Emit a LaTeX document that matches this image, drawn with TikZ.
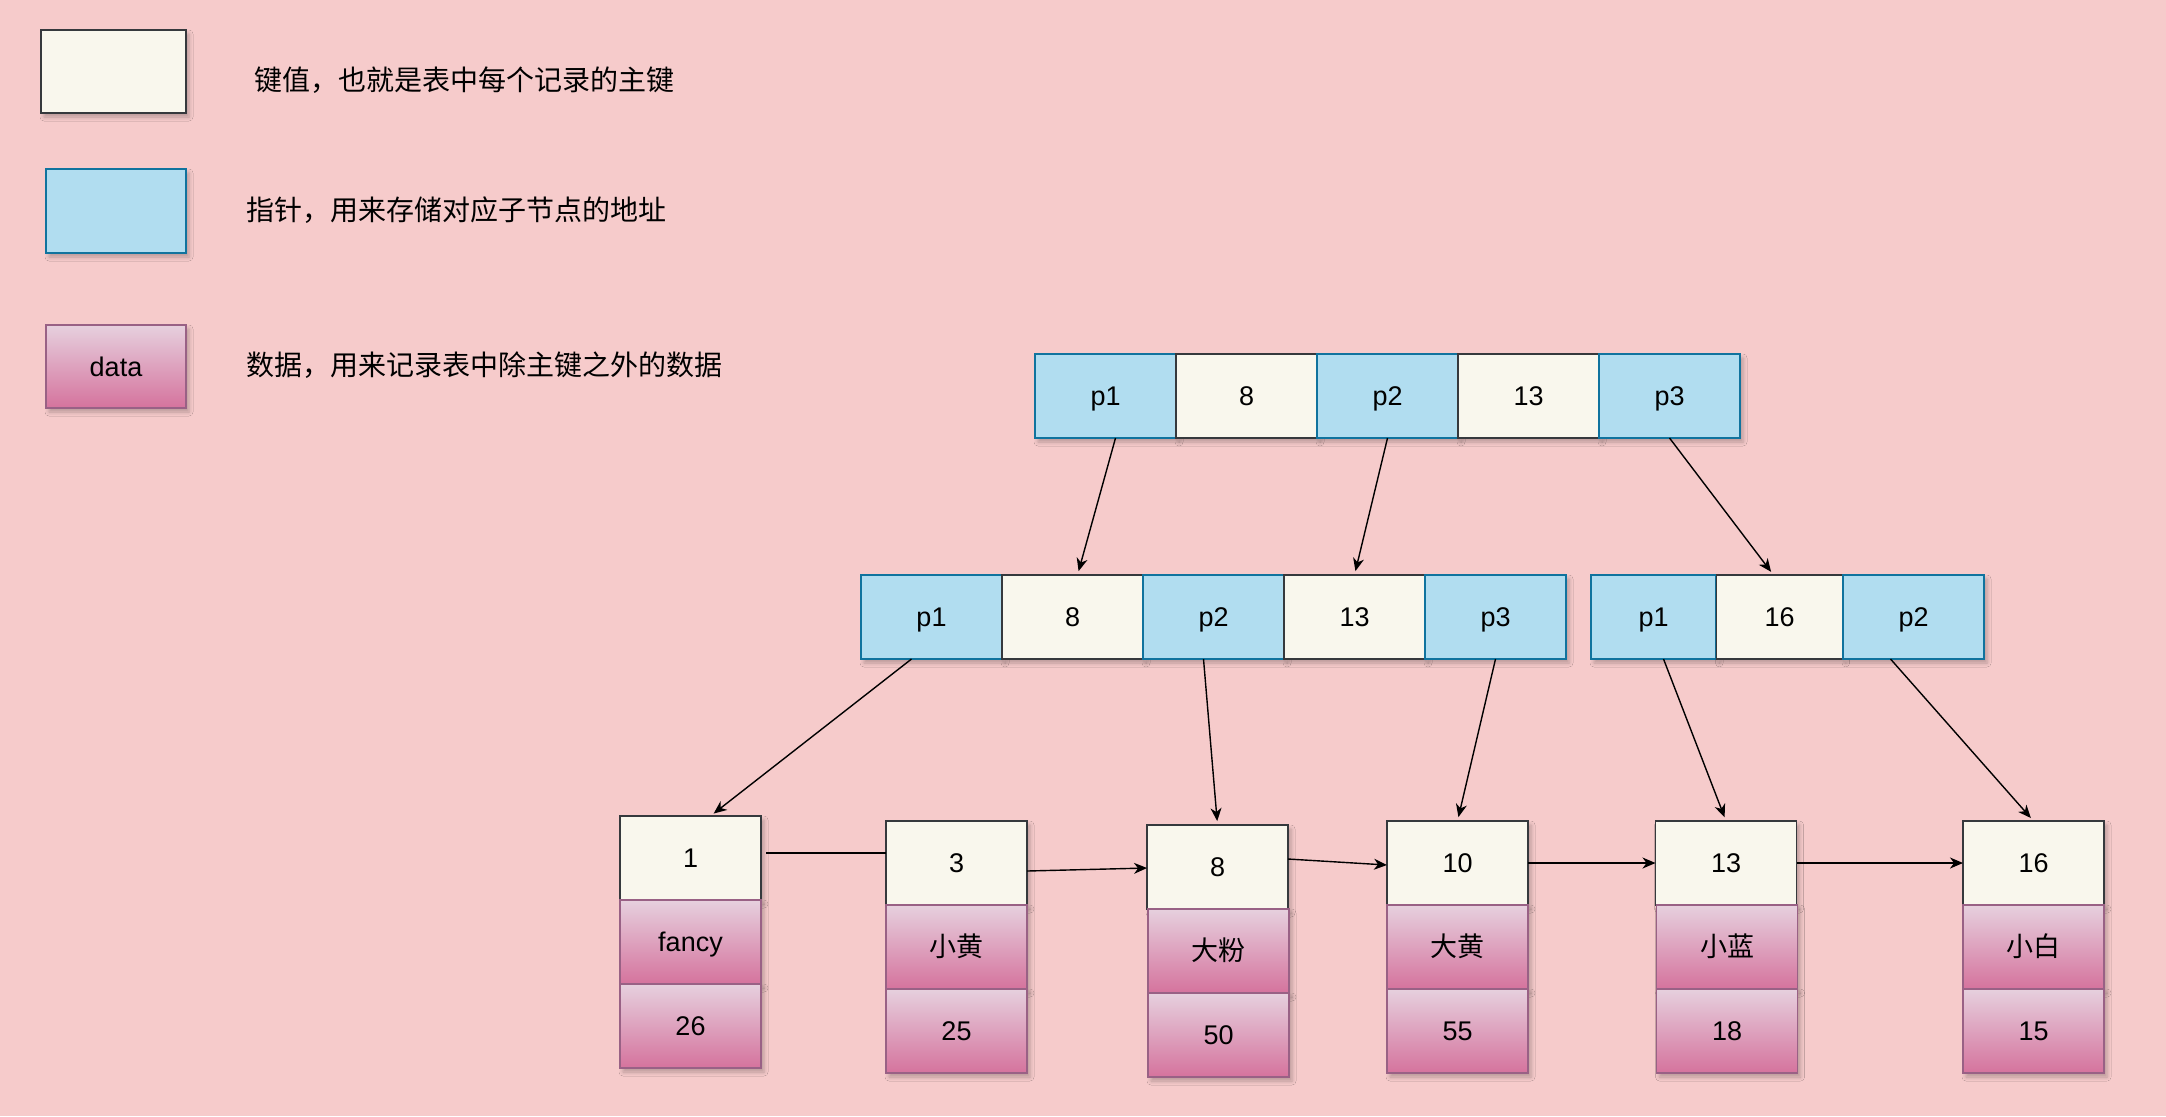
\documentclass[tikz,border=0pt]{standalone}
\usepackage{fontspec}
\setmainfont{Liberation Sans}
\newfontfamily\cjk{Noto Sans CJK SC}
\usetikzlibrary{calc,arrows.meta,shadows.blur}
\definecolor{bg}{HTML}{F6CBCB}
\definecolor{keyfill}{HTML}{F9F7ED}
\definecolor{keydraw}{HTML}{36393D}
\definecolor{ptrfill}{HTML}{B1DDF0}
\definecolor{ptrdraw}{HTML}{10739E}
\definecolor{datatop}{HTML}{E6D0DE}
\definecolor{databot}{HTML}{D5739D}
\definecolor{datadraw}{HTML}{996185}
\begin{document}
\begin{tikzpicture}[x=0.5pt,y=-0.5pt,
  every node/.style={font=\fontsize{13.5pt}{16pt}\selectfont, inner sep=0pt, outer sep=0pt},
  cellbase/.style={rectangle, line width=0.75pt, minimum width=70.5pt, minimum height=42pt,
    text height=9.7pt, text depth=0pt,
    blur shadow={shadow xshift=1.5pt, shadow yshift=-2pt, shadow blur radius=2pt, shadow opacity=25}},
  keycell/.style={cellbase, draw=keydraw, fill=keyfill},
  ptrcell/.style={cellbase, draw=ptrdraw, fill=ptrfill},
  datacell/.style={cellbase, draw=datadraw, top color=datatop, bottom color=databot},
  cjkt/.style={font=\cjk\fontsize{13.5pt}{16pt}\selectfont},
  arr/.style={line width=0.7pt, -{Stealth[length=6.5pt,width=5.5pt,inset=2pt]}},
  varr/.style={arr, shorten >=2pt},
  link/.style={line width=0.7pt},
  legtext/.style={anchor=west, font=\cjk\fontsize{14pt}{17pt}\selectfont}
]
\fill[bg] (0,0) rectangle (2166,1116);
\useasboundingbox (0,0) rectangle (2166,1116);

% legend
\node[keycell, minimum width=72.5pt, minimum height=41.5pt] (lk) at (113.5,71.5) {};
\node[ptrcell, minimum width=70pt] (lp) at (116,211) {};
\node[datacell, minimum width=70pt, minimum height=41.5pt] (ld) at (116,366.5) {data};
\node[legtext] (t1) at (254,80) {键值，也就是表中每个记录的主键};
\node[legtext] (t2) at (246,210) {指针，用来存储对应子节点的地址};
\node[legtext] (t3) at (246,365) {数据，用来记录表中除主键之外的数据};

% root
\node[ptrcell] (r1) at (1105.5,396) {p1};
\node[keycell] (r2) at (1246.5,396) {8};
\node[ptrcell] (r3) at (1387.5,396) {p2};
\node[keycell] (r4) at (1528.5,396) {13};
\node[ptrcell] (r5) at (1669.5,396) {p3};

% level 2 left
\node[ptrcell] (a1) at (931.5,617) {p1};
\node[keycell] (a2) at (1072.5,617) {8};
\node[ptrcell] (a3) at (1213.5,617) {p2};
\node[keycell] (a4) at (1354.5,617) {13};
\node[ptrcell] (a5) at (1495.5,617) {p3};

% level 2 right
\node[ptrcell, minimum width=62.5pt] (b1) at (1653.5,617) {p1};
\node[keycell, minimum width=63pt] (b2) at (1779.5,617) {16};
\node[ptrcell] (b3) at (1913.5,617) {p2};

% leaves
\node[keycell] (k1) at (690.5,858) {1};
\node[datacell] (d1a) at (690.5,942) {fancy};
\node[datacell] (d1b) at (690.5,1026) {26};

\node[keycell] (k2) at (956.5,863) {3};
\node[datacell, cjkt] (d2a) at (956.5,947) {小黄};
\node[datacell] (d2b) at (956.5,1031) {25};

\node[keycell] (k3) at (1217.5,867) {8};
\node[datacell, cjkt] (d3a) at (1218.5,951) {大粉};
\node[datacell] (d3b) at (1218.5,1035) {50};

\node[keycell] (k4) at (1457.5,863) {10};
\node[datacell, cjkt] (d4a) at (1457.5,947) {大黄};
\node[datacell] (d4b) at (1457.5,1031) {55};

\node[keycell] (k5) at (1726,863) {13};
\node[datacell, cjkt] (d5a) at (1727,947) {小蓝};
\node[datacell] (d5b) at (1727,1031) {18};

\node[keycell] (k6) at (2033.5,863) {16};
\node[datacell, cjkt] (d6a) at (2033.5,947) {小白};
\node[datacell] (d6b) at (2033.5,1031) {15};

% tree connectors
\draw[varr] ($(r1.south)+(10,0)$) -- ($(a2.north)+(5,0)$);
\draw[varr] (r3.south) -- (a4.north);
\draw[varr] (r5.south) -- ($(b2.north)+(-6,0)$);
\draw[varr] ($(a1.south)+(-20,0)$) -- ($(k1.north)+(20,0)$);
\draw[varr] ($(a3.south)+(-10,0)$) -- (k3.north);
\draw[varr] (a5.south) -- (k4.north);
\draw[varr] ($(b1.south)+(10,0)$) -- (k5.north);
\draw[varr] ($(b3.south)+(-23,0)$) -- (k6.north);

% leaf links
\draw[link] ($(k1.east)+(5,-5)$) -- ($(k2.west)+(0,-10)$);
\draw[arr] ($(k2.east)+(0,8)$) -- ($(k3.west)+(0,1)$);
\draw[arr] ($(k3.east)+(0,-8)$) -- ($(k4.west)+(0,2)$);
\draw[arr] (k4.east) -- (k5.west);
\draw[arr] (k5.east) -- (k6.west);
\end{tikzpicture}
\end{document}
